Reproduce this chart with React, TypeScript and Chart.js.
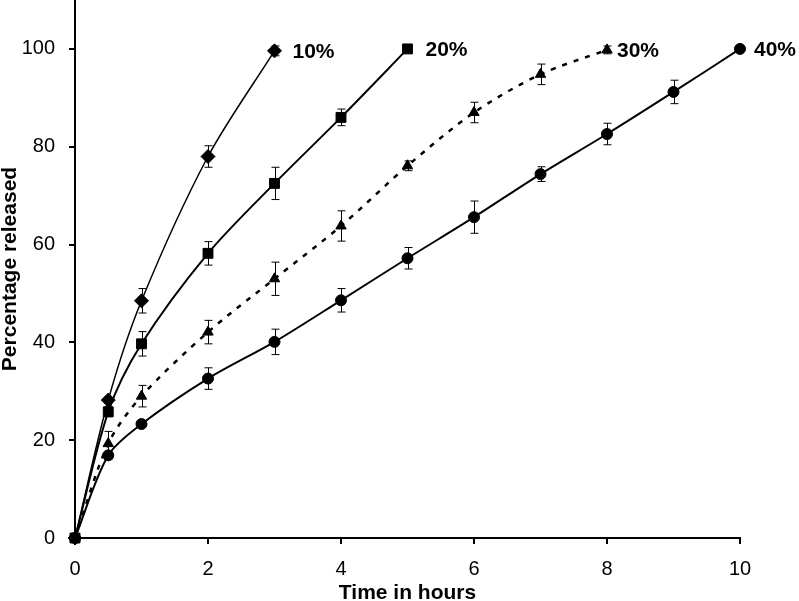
import { useEffect, useRef } from 'react'
import { Chart, registerables } from 'chart.js'

Chart.register(...registerables)

// time points (hours) shared by all series
const hours = [0, 0.5, 1, 2, 3, 4, 5, 6, 7, 8, 9, 10]

const seriesNames = ['10%', '20%', '30%', '40%']

const released10 = [0, 28.2, 48.5, 78, 99.6]
const released20 = [0, 25.8, 39.7, 58.2, 72.5, 86, 100]
const released30 = [0, 19.3, 29, 42.1, 53, 63.8, 76.1, 87, 94.8, 99.8]
const released40 = [0, 16.9, 23.3, 32.6, 40.1, 48.6, 57.2, 65.6, 74.4, 82.6, 91.2, 100]

// +/- error (SD) for each point, 0 = no bar
const err10 = [0, 0, 2.5, 2.2, 1]
const err20 = [0, 1, 2.5, 2.4, 3.3, 1.7, 0]
const err30 = [0, 2.5, 2.2, 2.4, 3.4, 3.1, 1, 2.1, 2.1, 0.8]
const err40 = [0, 0.8, 0.5, 2.2, 2.6, 2.4, 2.2, 3.3, 1.5, 2.2, 2.4, 0]

const yTicks = [0, 20, 40, 60, 80, 100]
const xTicks = [0, 2, 4, 6, 8, 10]

const FONT = '"Liberation Sans", Arial, sans-serif'

const allValues = [released10, released20, released30, released40]
const allErrors = [err10, err20, err30, err40]

const errorBars = {
  id: 'errorBars',
  afterDatasetsDraw(chart: any) {
    const { ctx, scales } = chart
    ctx.save()
    ctx.strokeStyle = '#000'
    ctx.lineWidth = 1
    allValues.forEach((vals, i) => {
      vals.forEach((v, j) => {
        const e = allErrors[i][j]
        if (!e) return
        const x = Math.round(scales.x.getPixelForValue(hours[j])) + 0.5
        const y1 = scales.y.getPixelForValue(v + e)
        const y2 = scales.y.getPixelForValue(v - e)
        ctx.beginPath()
        ctx.moveTo(x, y1); ctx.lineTo(x, y2)
        ctx.moveTo(x - 4, y1); ctx.lineTo(x + 4, y1)
        ctx.moveTo(x - 4, y2); ctx.lineTo(x + 4, y2)
        ctx.stroke()
      })
    })
    ctx.restore()
  }
}

const endLabels = {
  id: 'endLabels',
  afterDraw(chart: any) {
    const { ctx, scales } = chart
    const dx = [18, 18, 10, 14]
    ctx.save()
    ctx.fillStyle = '#000'
    ctx.font = `bold 21px ${FONT}`
    ctx.textBaseline = 'middle'
    allValues.forEach((vals, i) => {
      const j = vals.length - 1
      const x = scales.x.getPixelForValue(hours[j])
      const y = scales.y.getPixelForValue(vals[j])
      ctx.fillText(seriesNames[i], x + dx[i], y + 1)
    })
    ctx.restore()
  }
}

export default function App() {
  const ref = useRef<HTMLCanvasElement>(null)
  useEffect(() => {
    if (!ref.current) return
    Chart.defaults.color = '#000'
    const styles = [
      { pointStyle: 'rectRot', pointRadius: 7, borderWidth: 1.5, borderDash: [] as number[] },
      { pointStyle: 'rect', pointRadius: 7, borderWidth: 2, borderDash: [] as number[] },
      { pointStyle: 'triangle', pointRadius: 6, borderWidth: 2.5, borderDash: [5, 7] },
      { pointStyle: 'circle', pointRadius: 5.5, borderWidth: 2, borderDash: [] as number[] },
    ]
    const chart = new Chart(ref.current, {
      type: 'line',
      data: {
        datasets: allValues.map((vals, i) => ({
          label: seriesNames[i],
          data: vals.map((v, j) => ({ x: hours[j], y: v })),
          borderColor: '#000',
          backgroundColor: '#000',
          pointBackgroundColor: '#000',
          pointBorderColor: '#000',
          pointBorderWidth: 1,
          tension: 0.3,
          clip: false,
          ...styles[i],
        })),
      },
      options: {
        responsive: false,
        animation: false,
        layout: { autoPadding: false, padding: { top: 0, right: 59, bottom: 0, left: 0 } },
        plugins: { legend: { display: false }, tooltip: { enabled: false } },
        scales: {
          x: {
            type: 'linear',
            min: 0,
            max: 10,
            afterFit: (s: any) => { s.height = 63; s.paddingLeft = 0; s.paddingRight = 0 },
            afterBuildTicks: (s: any) => { s.ticks = xTicks.map(v => ({ value: v })) },
            border: { display: true, color: '#000', width: 2 },
            grid: { drawOnChartArea: false, drawTicks: true, tickLength: 6, color: '#000', lineWidth: 2 },
            ticks: { padding: 13, maxRotation: 0, font: { family: FONT, size: 20 }, color: '#000' },
            title: { display: true, text: 'Time in hours', padding: { top: 0, bottom: -3 }, font: { family: FONT, size: 21, weight: 'bold', lineHeight: 1 }, color: '#000' },
          },
          y: {
            type: 'linear',
            min: 0,
            max: 110,
            afterFit: (s: any) => { s.width = 75; s.paddingTop = 0; s.paddingBottom = 0 },
            afterBuildTicks: (s: any) => { s.ticks = yTicks.map(v => ({ value: v })) },
            border: { display: true, color: '#000', width: 2 },
            grid: { drawOnChartArea: false, drawTicks: true, tickLength: 6, color: '#000', lineWidth: 2 },
            ticks: { padding: 14, font: { family: FONT, size: 20 }, color: '#000' },
            title: { display: true, text: 'Percentage released', padding: 0, font: { family: FONT, size: 21, weight: 'bold', lineHeight: 1 }, color: '#000' },
          },
        },
      },
      plugins: [errorBars, endLabels],
    })
    return () => chart.destroy()
  }, [])
  return (
    <div style={{ position: 'absolute', left: 0, top: 0, width: 799, height: 601, background: '#fff' }}>
      <canvas ref={ref} width={799} height={601} />
    </div>
  )
}
